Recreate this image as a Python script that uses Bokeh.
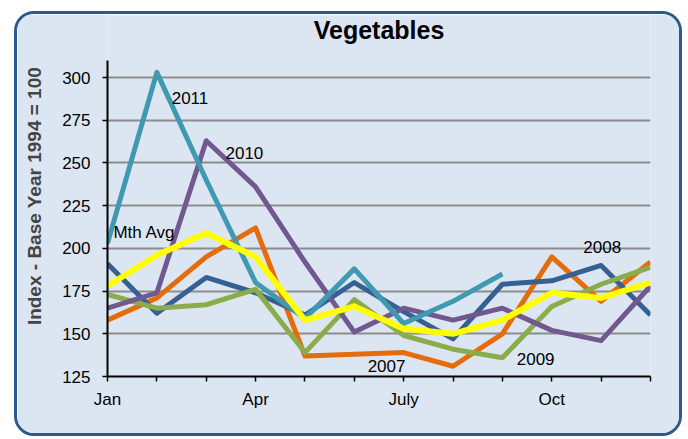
import math
from bokeh.plotting import figure
from bokeh.models import FixedTicker, Label, Range1d, Spacer
from bokeh.layouts import column, row
from bokeh.embed import file_html
from bokeh.resources import INLINE

# ---- data ----
months = ["Jan", "Feb", "Mar", "Apr", "May", "Jun", "Jul", "Aug", "Sep", "Oct", "Nov", "Dec"]
x_tick_labels = {0: "Jan", 3: "Apr", 6: "July", 9: "Oct"}
y_ticks = [125, 150, 175, 200, 225, 250, 275, 300]

s2007 = [158, 171, 195, 212, 137, 138, 139, 131, 150, 195, 169, 192]
s2008 = [191, 162, 183, 174, 161, 180, 163, 147, 179, 181, 190, 161]
s2009 = [173, 165, 167, 176, 139, 170, 149, 141, 136, 166, 179, 189]
s2010 = [165, 174, 263, 236, 192, 151, 165, 158, 165, 152, 146, 178]
s2011 = [203, 303, 240, 180, 159, 188, 156, 169, 185, math.nan, math.nan, math.nan]
mth_avg = [178, 196, 209, 195, 158, 166, 153, 150, 158, 174, 171, 180]

series_names = ["2007", "2008", "2009", "2010", "2011", "Mth Avg"]
series_values = [s2007, s2008, s2009, s2010, s2011, mth_avg]

FONT = "Liberation Sans"
BG = "#dce6f2"

p = figure(width=668, height=425, output_backend="svg", toolbar_location=None,
           x_range=Range1d(0, 11), y_range=Range1d(125, 336.3),
           min_border_left=90, min_border_right=35, min_border_top=1, min_border_bottom=63)
p.styles = {"border": "3px solid #2c5a8e", "border-radius": "20px", "overflow": "hidden",
            "box-sizing": "border-box"}
p.background_fill_color = BG
p.border_fill_color = BG
p.outline_line_color = None

p.add_layout(Label(x=5.5, y=328.0, text="Vegetables", text_font=FONT, text_font_size="25px",
                   text_font_style="bold", text_color="black", text_align="center",
                   text_baseline="alphabetic"))

# axes
p.xaxis.ticker = FixedTicker(ticks=list(range(len(months))))
p.xaxis.major_label_overrides = {i: x_tick_labels.get(i, "") for i in range(len(months))}
p.xaxis.major_tick_in = 0
p.xaxis.major_tick_out = 5
p.xaxis.minor_tick_line_color = None
p.xaxis.axis_line_width = 2
p.xaxis.major_tick_line_width = 1.5
p.xaxis.major_label_standoff = 8

p.yaxis.ticker = FixedTicker(ticks=y_ticks)
p.yaxis.bounds = (125, 310)
p.yaxis.major_tick_in = 0
p.yaxis.major_tick_out = 5
p.yaxis.minor_tick_line_color = None
p.yaxis.axis_line_width = 2
p.yaxis.major_tick_line_width = 1.5
p.yaxis.major_label_standoff = 12
p.yaxis.axis_label = "Index - Base Year 1994 = 100"
p.yaxis.axis_label_text_font_style = "bold"
p.yaxis.axis_label_text_font_size = "19px"
p.yaxis.axis_label_text_font = FONT
p.yaxis.axis_label_standoff = 14

for ax in (p.xaxis, p.yaxis):
    ax.axis_line_color = "black"
    ax.major_tick_line_color = "black"
    ax.major_label_text_font = FONT
    ax.major_label_text_font_size = "17px"
    ax.major_label_text_color = "black"

p.xgrid.grid_line_color = None
p.ygrid.grid_line_color = "#8c8c8c"
p.ygrid.grid_line_width = 2

colors = ["#e46c0a", "#376092", "#8aac4a", "#71588f", "#3f99b1", "#ffff00"]
widths = [5, 5, 5, 5, 5, 6]
xs = list(range(len(months)))
for name, vals, c, w in zip(series_names, series_values, colors, widths):
    p.line(xs, vals, line_color=c, line_width=w, line_join="round")

# series labels (month index, value) anchors
label_pos = {
    "2011": (1.30, 288),
    "2010": (2.39, 256),
    "Mth Avg": (0.12, 209),
    "2008": (9.64, 201),
    "2007": (5.27, 131),
    "2009": (8.29, 135),
}
for name in series_names:
    lx, ly = label_pos[name]
    p.add_layout(Label(x=lx, y=ly, text=name, text_font=FONT, text_font_size="17px",
                       text_color="black", text_align="left", text_baseline="middle"))

layout = column(Spacer(height=11, width=10),
                row(Spacer(width=14, height=10), p, Spacer(width=26, height=10)),
                Spacer(height=19, width=10))
open("out.html", "w").write(file_html(layout, INLINE))
